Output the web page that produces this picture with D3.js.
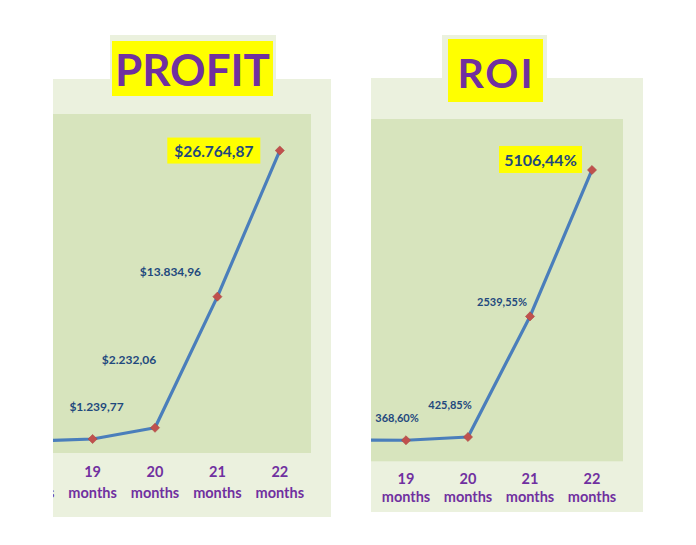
<!DOCTYPE html>
<html>
<head>
<meta charset="utf-8">
<script src="https://cdn.jsdelivr.net/npm/d3@7"></script>
<style>
  body { margin: 0; background: #fff; }
  svg { display: block; font-family: Lato, "Open Sans", sans-serif; }
</style>
</head>
<body>
<svg id="chart" width="696" height="545"></svg>
<script>
// chart data (the 18 months point is cut off on the left)
const months = [18, 19, 20, 21, 22];
const profitValues = [1050, 1239.77, 2232.06, 13834.96, 26764.87];
const roiValues = [375, 368.60, 425.85, 2539.55, 5106.44];
const profitDomain = [0, 30000];
const roiDomain = [0, 6000];
const tickUnit = 'months';

const euro = d3.formatLocale({ decimal: ',', thousands: '.', grouping: [3], currency: ['$', ''] });
const fmtProfit = euro.format('$,.2f');
const fmtRoi = v => euro.format('.2f')(v) + '%';

const svg = d3.select('#chart');

// layout of each chart panel (pixel boxes, label nudges like Excel's hand-moved labels)
const panels = [
    {
        id: 'profit',
        title: 'PROFIT',
        values: profitValues,
        domain: profitDomain,
        format: fmtProfit,
        clipLeft: 53,
        outer: { x: 53, y: 79, w: 278, h: 438 },
        tab: { x: 110, y: 35, w: 166, h: 44 },
        titleBox: { x: 112, y: 41, w: 161, h: 55 },
        titleText: { x: 192.5, y: 69, size: 44, spacing: 0 },
        plot: { left: -1, right: 311, top: 114, bottom: 453 },
        labelSize: 12,
        bigSize: 15.5,
        bigBox: { w: 93, h: 26 },
        labelNudge: [null, [4, -32], [-26, -68], [-47, -25], [-66, 0]],
        tickLines: [471, 492]
    },
    {
        id: 'roi',
        title: 'ROI',
        values: roiValues,
        domain: roiDomain,
        format: fmtRoi,
        clipLeft: 371,
        outer: { x: 371, y: 78, w: 272, h: 434 },
        tab: { x: 442, y: 35, w: 105, h: 43 },
        titleBox: { x: 448, y: 39, w: 95, h: 63 },
        titleText: { x: 496, y: 72, size: 41, spacing: 2 },
        plot: { left: 313, right: 623, top: 119, bottom: 461.3 },
        labelSize: 11,
        bigSize: 16,
        bigBox: { w: 83, h: 27 },
        labelNudge: [null, [-9, -23], [-18, -33], [-28, -15], [-51.5, -10.5]],
        tickLines: [478, 496]
    }
];

panels.forEach(drawPanel);

function drawPanel(cfg) {
    const data = months.map((m, i) => ({ m, v: cfg.values[i], i }));

    // clip everything left of the visible edge
    svg.append('clipPath')
        .attr('id', 'clip-' + cfg.id)
        .append('rect')
        .attr('x', cfg.clipLeft)
        .attr('y', 0)
        .attr('width', 696 - cfg.clipLeft)
        .attr('height', 545);

    const g = svg.append('g').attr('clip-path', `url(#clip-${cfg.id})`);

    // chart background + the tab the title sits on
    g.append('rect')
        .attr('x', cfg.tab.x).attr('y', cfg.tab.y)
        .attr('width', cfg.tab.w).attr('height', cfg.tab.h + 2)
        .attr('fill', '#EBF1DE');
    g.append('rect')
        .attr('x', cfg.outer.x).attr('y', cfg.outer.y)
        .attr('width', cfg.outer.w).attr('height', cfg.outer.h)
        .attr('fill', '#EBF1DE');

    // plot area
    g.append('rect')
        .attr('x', cfg.plot.left).attr('y', cfg.plot.top)
        .attr('width', cfg.plot.right - cfg.plot.left)
        .attr('height', cfg.plot.bottom - cfg.plot.top)
        .attr('fill', '#D7E4BD');

    // title
    g.append('rect')
        .attr('x', cfg.titleBox.x).attr('y', cfg.titleBox.y)
        .attr('width', cfg.titleBox.w).attr('height', cfg.titleBox.h)
        .attr('fill', '#FFFF00');
    g.append('text')
        .attr('x', cfg.titleText.x)
        .attr('y', cfg.titleText.y)
        .attr('text-anchor', 'middle')
        .attr('dominant-baseline', 'central')
        .style('font-size', cfg.titleText.size + 'px')
        .style('font-weight', 'bold')
        .style('letter-spacing', cfg.titleText.spacing + 'px')
        .style('fill', '#7030A0')
        .text(cfg.title);

    // scales
    const x = d3.scaleBand()
        .domain(months)
        .range([cfg.plot.left, cfg.plot.right])
        .padding(0);
    const y = d3.scaleLinear()
        .domain(cfg.domain)
        .range([cfg.plot.bottom, cfg.plot.top]);
    const cx = d => x(d.m) + x.bandwidth() / 2;

    // category axis, two lines per tick
    const axisG = g.append('g')
        .call(d3.axisBottom(x).tickSize(0).tickFormat(d => d));
    axisG.select('.domain').remove();
    axisG.selectAll('.tick text').each(function (d) {
        const t = d3.select(this)
            .text(null)
            .attr('y', null)
            .attr('dy', null)
            .attr('dominant-baseline', 'central')
            .style('font-family', 'Lato, "Open Sans", sans-serif')
            .style('font-size', '14.5px')
            .style('font-weight', 'bold')
            .attr('fill', '#7030A0');
        t.append('tspan').attr('x', 0).attr('y', cfg.tickLines[0]).text(d);
        t.append('tspan').attr('x', 0).attr('y', cfg.tickLines[1]).text(tickUnit);
    });

    // line
    const line = d3.line()
        .x(cx)
        .y(d => y(d.v));
    g.append('path')
        .datum(data)
        .attr('d', line)
        .attr('fill', 'none')
        .attr('stroke', '#4A7EBB')
        .attr('stroke-width', 3.2)
        .attr('stroke-linejoin', 'round');

    // diamond markers
    g.selectAll('.marker')
        .data(data)
        .enter()
        .append('path')
        .attr('class', 'marker')
        .attr('d', d3.symbol(d3.symbolSquare, 42))
        .attr('transform', d => `translate(${cx(d)},${y(d.v)}) rotate(45)`)
        .attr('fill', '#C0504D')
        .attr('stroke', '#A9433F')
        .attr('stroke-width', 0.5);

    // data labels (the last one is highlighted)
    const last = data.length - 1;
    data.forEach(d => {
        const nudge = cfg.labelNudge[d.i];
        if (!nudge) return;
        const lx = cx(d) + nudge[0];
        const ly = y(d.v) + nudge[1];
        const isBig = d.i === last;
        if (isBig) {
            g.append('rect')
                .attr('x', lx - cfg.bigBox.w / 2)
                .attr('y', ly - cfg.bigBox.h / 2)
                .attr('width', cfg.bigBox.w)
                .attr('height', cfg.bigBox.h)
                .attr('fill', '#FFFF00');
        }
        g.append('text')
            .attr('x', lx)
            .attr('y', ly)
            .attr('text-anchor', 'middle')
            .attr('dominant-baseline', 'central')
            .style('font-size', (isBig ? cfg.bigSize : cfg.labelSize) + 'px')
            .style('font-weight', 'bold')
            .style('fill', '#1F497D')
            .text(cfg.format(d.v));
    });
}
</script>
</body>
</html>
